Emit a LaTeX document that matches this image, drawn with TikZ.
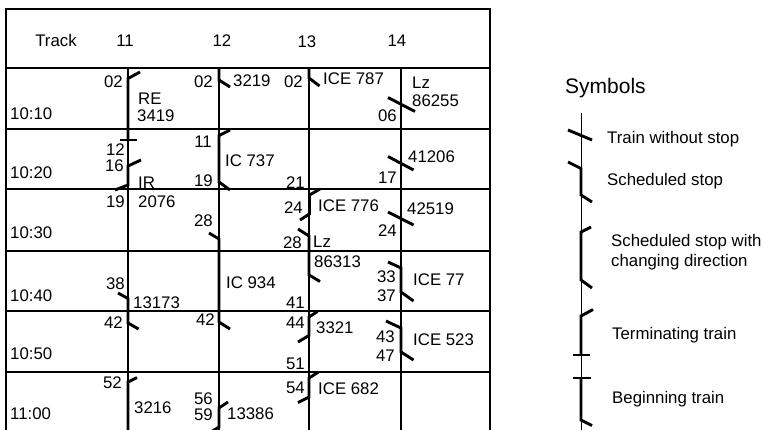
\documentclass[tikz,border=0pt]{standalone}
\usepackage{fontspec}
\setmainfont{Liberation Sans}
\newcommand{\tabfont}{\fontsize{16.8}{17}\selectfont}
\newcommand{\headfont}{\fontsize{21}{22}\selectfont}
\tikzset{
  border/.style={line width=1.8pt},
  gridline/.style={line width=1.2pt},
  trainline/.style={line width=2.9pt},
  legline/.style={line width=1pt},
  lbl/.style={font=\tabfont, inner sep=0pt, anchor=base west},
  minlbl/.style={font=\tabfont, inner sep=0pt, anchor=base east},
  hdr/.style={font=\tabfont, inner sep=0pt, anchor=base},
}
\begin{document}
\begin{tikzpicture}[x=1pt,y=-1pt]
\useasboundingbox (0,0) rectangle (764,429);
\clip (0,0) rectangle (764,429);

% table grid
\draw[border] (6,440) -- (6,9) -- (490,9) -- (490,440);
\foreach \yy in {68,129,189,251,311,372} \draw[gridline] (6,\yy) -- (490,\yy);
\foreach \xx in {128,219,309,401} \draw[gridline] (\xx,68) -- (\xx,440);

% header
\node[hdr] (hTrack) at (56,46) {Track};
\node[hdr] (h11) at (125,46) {11};
\node[hdr] (h12) at (222,46) {12};
\node[hdr] (h13) at (307,47) {13};
\node[hdr] (h14) at (397,46) {14};

% times
\node[lbl] (t1010) at (10,119) {10:10};
\node[lbl] (t1020) at (10,178) {10:20};
\node[lbl] (t1030) at (10,238) {10:30};
\node[lbl] (t1040) at (10,301) {10:40};
\node[lbl] (t1050) at (10,359) {10:50};
\node[lbl] (t1100) at (10,419) {11:00};

% minute labels track 11
\node[minlbl] (a02) at (123,87) {02};
\node[minlbl] (a12) at (125,155) {12};
\node[minlbl] (a16) at (124,171) {16};
\node[minlbl] (a19) at (125,207) {19};
\node[minlbl] (a38) at (125,289) {38};
\node[minlbl] (a42) at (123,328) {42};
\node[minlbl] (a52) at (122,388) {52};
% track 12
\node[minlbl] (b02) at (213,87) {02};
\node[minlbl] (b11) at (212,147) {11};
\node[minlbl] (b19) at (213,186) {19};
\node[minlbl] (b28) at (213,226) {28};
\node[minlbl] (b42) at (215,325) {42};
\node[minlbl] (b56) at (213,404) {56};
\node[minlbl] (b59) at (213,420) {59};
% track 13
\node[minlbl] (c02) at (303,87) {02};
\node[minlbl] (c21) at (305,188) {21};
\node[minlbl] (c24) at (303,213) {24};
\node[minlbl] (c28) at (302,248) {28};
\node[minlbl] (c41) at (305,308) {41};
\node[minlbl] (c44) at (305,328) {44};
\node[minlbl] (c51) at (305,369) {51};
\node[minlbl] (c54) at (305,393) {54};
% track 14
\node[minlbl] (d06) at (397,121) {06};
\node[minlbl] (d17) at (397,183) {17};
\node[minlbl] (d24) at (397,236) {24};
\node[minlbl] (d33) at (396,282) {33};
\node[minlbl] (d37) at (396,301) {37};
\node[minlbl] (d43) at (395,342) {43};
\node[minlbl] (d47) at (395,361) {47};

% train names
\node[lbl] (nRE) at (138,104) {RE};
\node[lbl] (n3419) at (137,121) {3419};
\node[lbl] (n3219) at (233,86) {3219};
\node[lbl] (nICE787) at (323,84) {ICE 787};
\node[lbl] (nLz1) at (412,88) {Lz};
\node[lbl] (n86255) at (412,106) {86255};
\node[lbl] (nIC737) at (225,166) {IC 737};
\node[lbl] (n41206) at (408,162) {41206};
\node[lbl] (nIR) at (138,188) {IR};
\node[lbl] (n2076) at (138,207) {2076};
\node[lbl] (nICE776) at (318,211) {ICE 776};
\node[lbl] (n42519) at (407,214) {42519};
\node[lbl] (nLz2) at (313,247) {Lz};
\node[lbl] (n86313) at (314,267) {86313};
\node[lbl] (nIC934) at (226,288) {IC 934};
\node[lbl] (n13173) at (133,308) {13173};
\node[lbl] (nICE77) at (413,285) {ICE 77};
\node[lbl] (n3321) at (316,333) {3321};
\node[lbl] (nICE523) at (413,345) {ICE 523};
\node[lbl] (n3216) at (134,413) {3216};
\node[lbl] (nICE682) at (318,394) {ICE 682};
\node[lbl] (n13386) at (227,419) {13386};

% train symbols track 11
\draw[trainline] (140,72) -- (128,78.5) -- (128,140);
\draw[trainline] (120,140) -- (137,140);
\draw[trainline] (141,160) -- (128,166) -- (128,185) -- (115,190);
\draw[trainline] (118,293) -- (128,298.5) -- (128,323) -- (138.5,329);
\draw[trainline] (137,377.5) -- (128,382) -- (128,440);
% track 12
\draw[trainline] (219,68) -- (219,80) -- (230,87);
\draw[trainline] (230,130) -- (219,135.5) -- (219,182) -- (230,190);
\draw[trainline] (209,233) -- (219,239) -- (219,322) -- (230,329);
\draw[trainline] (228,402) -- (219,408) -- (219,427) -- (211,432);
% track 13
\draw[trainline] (309,68) -- (309,78) -- (319.5,86);
\draw[trainline] (320,189) -- (309.5,195) -- (309.5,214) -- (300,220);
\draw[trainline] (298,229) -- (309,236) -- (309,275) -- (320,281.5);
\draw[trainline] (317.5,311.5) -- (309,317) -- (309,335.5) -- (298,342);
\draw[trainline] (318.5,372) -- (309,378) -- (309,397) -- (298,402.5);
% track 14
\draw[trainline] (388,97.5) -- (415,111.5);
\draw[trainline] (388,156.5) -- (413.5,170);
\draw[trainline] (388,212) -- (413.5,225);
\draw[trainline] (388,262) -- (401,268) -- (401,292) -- (413.5,301);
\draw[trainline] (386,321) -- (401,328) -- (401,352) -- (413.5,360);

% legend
\node[font=\headfont, inner sep=0pt, anchor=base west] (symTitle) at (565,93) {Symbols};
\draw[legline] (581,113) -- (581,440);
\draw[trainline] (568,130) -- (592,140);
\node[lbl] (sym1) at (607,143) {Train without stop};
\draw[trainline] (568,162) -- (581,168.5) -- (581,195) -- (592,202);
\node[lbl] (sym2) at (607,185) {Scheduled stop};
\draw[trainline] (591,227) -- (581,232) -- (581,280) -- (592,288);
\node[lbl] (sym3a) at (611,246) {Scheduled stop with};
\node[lbl] (sym3b) at (611,266) {changing direction};
\draw[trainline] (593,309.5) -- (581,316) -- (581,355);
\draw[trainline] (573,355) -- (590,355);
\node[lbl] (sym4) at (612,339) {Terminating train};
\draw[trainline] (573,378) -- (591,378);
\draw[trainline] (581,378) -- (581,420) -- (592,425.5);
\node[lbl] (sym5) at (612,403) {Beginning train};
\end{tikzpicture}
\end{document}
